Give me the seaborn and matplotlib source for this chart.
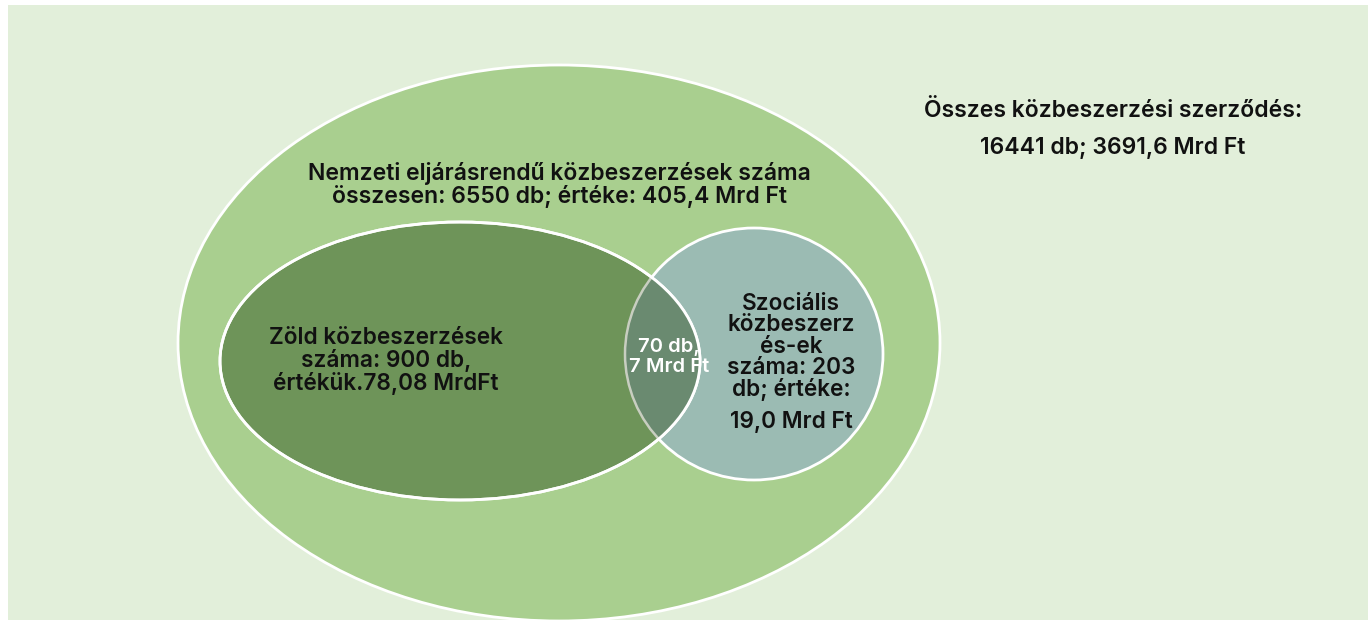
import seaborn as sns
import matplotlib.pyplot as plt
from matplotlib.patches import Ellipse, Rectangle

# Adatok
total_db = "16441"
total_value = "3691,6"
national_db = "6550"
national_value = "405,4"
green_db = "900"
green_value = "78,08"
social_db = "203"
social_value = "19,0"
overlap_db = "70"
overlap_value = "7"

sns.set_style("white")
plt.rcParams['font.family'] = ['Inter', 'DejaVu Sans']

fig = plt.figure(figsize=(13.72, 6.2), dpi=100)
ax = fig.add_axes([0, 0, 1, 1])
ax.set_xlim(0, 1372)
ax.set_ylim(620, 0)
ax.axis('off')

# háttér
ax.add_patch(Rectangle((8, 5), 1360, 620, facecolor='#E2EFDA', edgecolor='none', zorder=0))

# nemzeti eljárásrend
ax.add_patch(Ellipse((559, 343), 762, 556, facecolor='#A9CF8F', edgecolor='white', lw=2, zorder=1))

# szociális kör
ax.add_patch(Ellipse((754, 354), 258, 252, facecolor='#9BBBB3', edgecolor='white', lw=2, zorder=2))

# zöld ellipszis
green = Ellipse((460, 361), 480, 278, facecolor='#6E9459', edgecolor='white', lw=2, zorder=3)
ax.add_patch(green)

# metszet
inter = Ellipse((754, 354), 258, 252, facecolor='#6A8A70', edgecolor='#C8CEC0', lw=1.8, zorder=4)
ax.add_patch(inter)
inter.set_clip_path(green)
ax.add_patch(Ellipse((460, 361), 480, 278, facecolor='none', edgecolor='white', lw=2, zorder=5))

fw = 'semibold'
dark = '#111111'
ax.text(559, 185, f"Nemzeti eljárásrendű közbeszerzések száma\nösszesen: {national_db} db; értéke: {national_value} Mrd Ft",
        ha='center', va='center', fontsize=16.5, fontweight=fw, linespacing=1.05, color=dark, zorder=6)
ax.text(1113, 111, "Összes közbeszerzési szerződés:", ha='center', va='center',
        fontsize=16.5, fontweight=fw, color=dark, zorder=6)
ax.text(1113, 148, f"{total_db} db; {total_value} Mrd Ft", ha='center', va='center',
        fontsize=16.5, fontweight=fw, color=dark, zorder=6)
ax.text(386, 361, f"Zöld közbeszerzések\nszáma: {green_db} db,\nértékük.{green_value} MrdFt",
        ha='center', va='center', fontsize=16.3, fontweight=fw, linespacing=0.98, color=dark, zorder=6)
ax.text(669, 357, f"{overlap_db} db,\n{overlap_value} Mrd Ft", ha='center', va='center',
        fontsize=14.5, fontweight=fw, linespacing=1.12, color='white', zorder=6)
ax.text(791, 347, f"Szociális\nközbeszerz\nés-ek\nszáma: {social_db}\ndb; értéke:",
        ha='center', va='center', fontsize=16.3, fontweight=fw, linespacing=0.95, color=dark, zorder=6)
ax.text(791, 422, f"{social_value} Mrd Ft", ha='center', va='center',
        fontsize=16.3, fontweight=fw, color=dark, zorder=6)

fig.savefig('out.png', dpi=100, facecolor='white')
